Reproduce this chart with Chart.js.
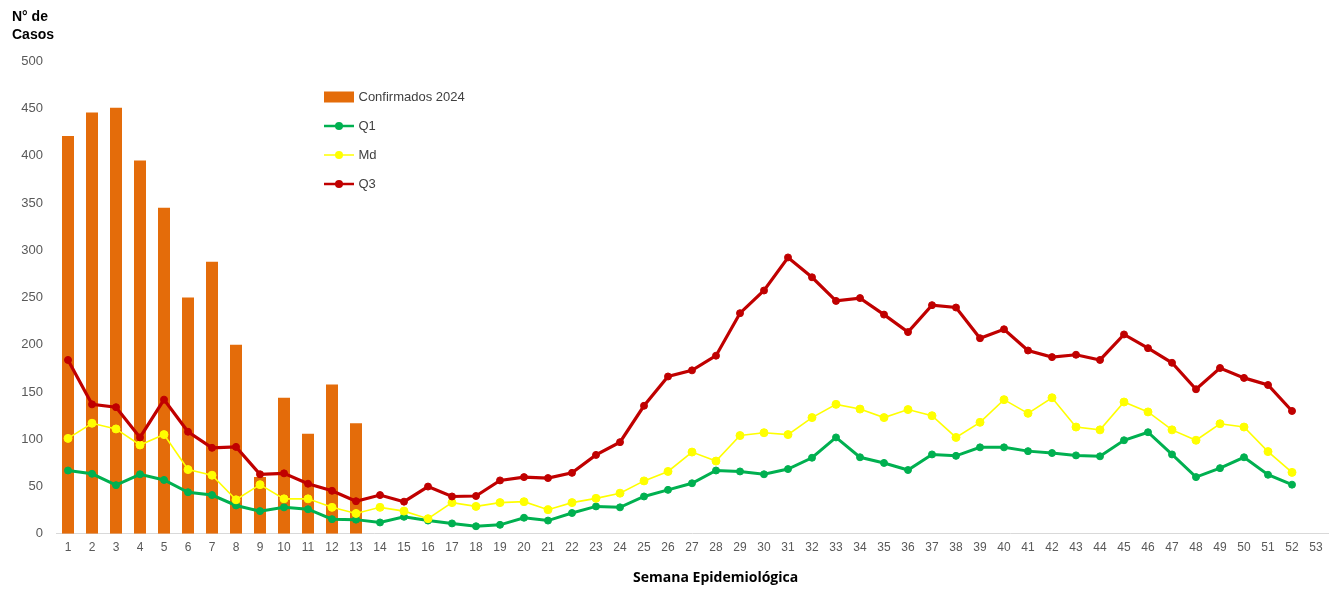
<!DOCTYPE html>
<html>
<head>
<meta charset="utf-8">
<script src="https://cdn.jsdelivr.net/npm/chart.js@4.4.1/dist/chart.umd.min.js"></script>
<style>
  body { margin: 0; background: #fff; }
  #chart { display: block; }
</style>
</head>
<body>
<canvas id="chart" width="1337" height="593"></canvas>
<script>
// semanas epidemiológicas (eixo x)
var semanas = ["1", "2", "3", "4", "5", "6", "7", "8", "9", "10", "11", "12", "13", "14", "15", "16", "17", "18",
  "19", "20", "21", "22", "23", "24", "25", "26", "27", "28", "29", "30", "31", "32", "33", "34", "35", "36",
  "37", "38", "39", "40", "41", "42", "43", "44", "45", "46", "47", "48", "49", "50", "51", "52", "53"];

// casos confirmados 2024 (só até a semana 13)
var confirmados2024 = [421, 446, 451, 395, 345, 250, 288, 200, 60, 144, 106, 158, 117];

// canal endêmico: quartis
var q1 = [67, 63.5, 51.5, 63, 57, 44, 41, 30, 24, 28, 26, 15.5, 15, 12, 18, 14, 11, 8,
  9.5, 17, 14, 22, 29, 28, 39.5, 46.5, 53.5, 67, 66, 63, 68.5, 80.5, 102, 81, 75,
  67.5, 84, 82.5, 91.5, 91.5, 87.5, 85.5, 83, 82, 99, 107.5, 84, 60, 69.5, 81, 62.5, 52];
var md = [101, 117, 111, 94, 105, 68, 62, 36, 52, 37, 37, 28, 21.5, 28, 24, 16, 33, 29,
  33, 34, 25.5, 33, 37.5, 43, 56, 66, 86.5, 77, 104, 107, 105, 123, 137, 132, 123,
  131.5, 125, 102, 118, 142, 127.5, 144, 113, 110, 139.5, 129, 110, 99, 116.5, 113, 87, 65];
var q3 = [184, 137, 134, 102, 142, 108, 91, 92, 63, 64, 53, 45.5, 34.5, 41, 34, 50, 39.5, 40,
  56.5, 60, 59, 64.5, 83.5, 97, 135.5, 166.5, 173, 188.5, 233.5, 257.5, 292.5, 271.5, 246.5, 249.5, 232,
  213.5, 242, 239.5, 207, 216.5, 194, 187, 189.5, 184, 211, 196.5, 181, 153, 175.5, 165, 157.5, 130];

// eixo y
var yMin = 0;
var yMax = 500;
var yStep = 50;

Chart.defaults.font.family = "'Liberation Sans', Arial, sans-serif";

// marcadores da legenda (linha + ponto, ou retângulo)
function legendMarker(color, lineWidth, radius, isBar) {
  var c = document.createElement("canvas");
  c.width = 30;
  c.height = 12;
  var g = c.getContext("2d");
  g.fillStyle = color;
  g.strokeStyle = color;
  if (isBar) {
    g.fillRect(0, 0.5, 30, 11);
  } else {
    g.lineWidth = lineWidth;
    g.beginPath();
    g.moveTo(0, 6);
    g.lineTo(30, 6);
    g.stroke();
    g.beginPath();
    g.arc(15, 6, radius, 0, Math.PI * 2);
    g.fill();
  }
  return c;
}

var markers = [
  legendMarker("#E46C0A", 0, 0, true),
  legendMarker("#00B050", 2.5, 4, false),
  legendMarker("#FFFF00", 1.5, 4, false),
  legendMarker("#C00000", 2.5, 4, false),
];

// legenda solta dentro da área do gráfico
var moveLegend = {
  id: "moveLegend",
  afterLayout: function (chart) {
    var lg = chart.legend;
    lg.left = 310;
    lg.top = 74.5;
    lg.right = lg.left + 300;
  },
};

new Chart(document.getElementById("chart"), {
  data: {
    labels: semanas,
    datasets: [
      {
        type: "bar",
        label: "Confirmados 2024",
        data: confirmados2024,
        backgroundColor: "#E46C0A",
        borderWidth: 0,
        categoryPercentage: 0.5,
        barPercentage: 1,
        order: 3,
      },
      {
        type: "line",
        label: "Q1",
        data: q1,
        borderColor: "#00B050",
        backgroundColor: "#00B050",
        borderWidth: 3,
        pointRadius: 3.5,
        pointBorderWidth: 1,
        tension: 0,
        order: 2,
      },
      {
        type: "line",
        label: "Md",
        data: md,
        borderColor: "#FFFF00",
        backgroundColor: "#FFFF00",
        borderWidth: 1.6,
        pointRadius: 4,
        pointBorderWidth: 1,
        tension: 0,
        order: 1,
      },
      {
        type: "line",
        label: "Q3",
        data: q3,
        borderColor: "#C00000",
        backgroundColor: "#C00000",
        borderWidth: 3.2,
        pointRadius: 3.5,
        pointBorderWidth: 1,
        tension: 0,
        order: 0,
      },
    ],
  },
  options: {
    responsive: false,
    animation: false,
    devicePixelRatio: 1,
    layout: { padding: { left: 12, right: 9, top: 0, bottom: 3 } },
    plugins: {
      tooltip: { enabled: false },
      title: {
        display: true,
        text: ["N° de", "Casos"],
        align: "start",
        color: "#000",
        font: { size: 14, weight: "bold", lineHeight: 1.3 },
        padding: { top: 8, bottom: 17 },
      },
      legend: {
        position: "chartArea",
        align: "start",
        labels: {
          usePointStyle: true,
          pointStyleWidth: 26,
          boxHeight: 12,
          padding: 16,
          color: "#404040",
          font: { size: 13 },
          generateLabels: function (chart) {
            return chart.data.datasets.map(function (ds, i) {
              return {
                text: ds.label,
                pointStyle: markers[i],
                fillStyle: ds.backgroundColor,
                strokeStyle: ds.borderColor,
                lineWidth: 0,
                hidden: !chart.isDatasetVisible(i),
                datasetIndex: i,
                fontColor: "#404040",
              };
            });
          },
        },
      },
    },
    scales: {
      x: {
        offset: true,
        grid: { display: false, drawTicks: false },
        border: { display: true, color: "#D9D9D9", width: 1 },
        ticks: {
          color: "#595959",
          font: { size: 12 },
          padding: 7,
          maxRotation: 0,
          autoSkip: false,
        },
        title: {
          display: true,
          text: "\u00A0\u00A0\u00A0\u00A0\u00A0\u00A0\u00A0\u00A0\u00A0\u00A0\u00A0\u00A0\u00A0Semana Epidemiológica",
          color: "#000",
          font: { family: "'Open Sans', sans-serif", size: 14, weight: "bold" },
          padding: { top: 7, bottom: 4 },
        },
      },
      y: {
        min: yMin,
        max: yMax,
        grid: { display: false, drawTicks: false },
        border: { display: false },
        ticks: {
          stepSize: yStep,
          color: "#595959",
          font: { size: 13 },
          padding: 13,
        },
        afterFit: function (scale) {
          scale.width = 44;
        },
      },
    },
  },
  plugins: [moveLegend],
});
</script>
</body>
</html>
